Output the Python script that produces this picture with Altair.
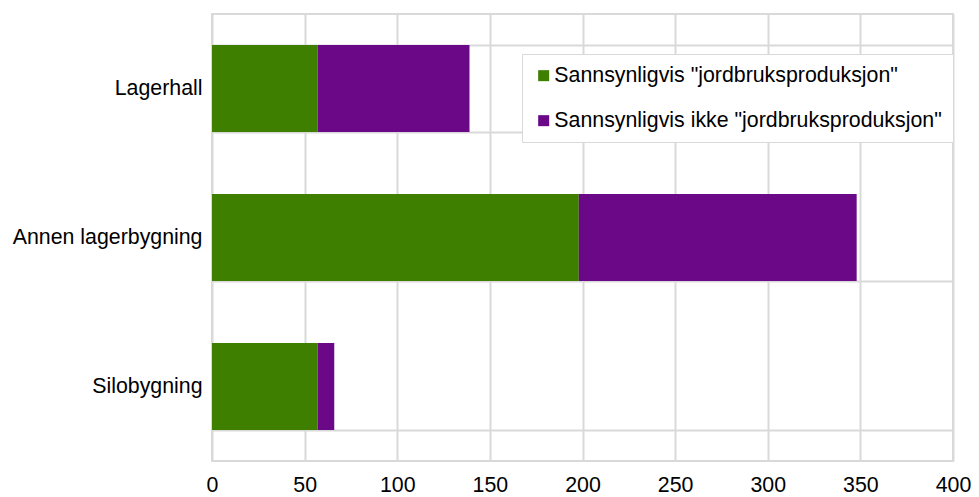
import altair as alt
import pandas as pd

categories = ["Lagerhall", "Annen lagerbygning", "Silobygning"]
series_names = ['Sannsynligvis "jordbruksproduksjon"', 'Sannsynligvis ikke "jordbruksproduksjon"']
jordbruk = [57, 198, 57]
ikke_jordbruk = [82, 150, 9]
colors = ["#3E7F00", "#6A0888"]
x_ticks = [0, 50, 100, 150, 200, 250, 300, 350, 400]

rows = []
for i, c in enumerate(categories):
    rows.append({"kategori": c, "serie": series_names[0], "verdi": jordbruk[i], "rekke": 0})
    rows.append({"kategori": c, "serie": series_names[1], "verdi": ikke_jordbruk[i], "rekke": 1})
df = pd.DataFrame(rows)

FONT = "Liberation Sans"
GRID = "#d9d9d9"
FS = 21.33

chart = alt.Chart(df).mark_bar().encode(
    y=alt.Y("kategori:N", sort=categories, title=None,
            scale=alt.Scale(paddingInner=0.416, paddingOuter=0.208),
            axis=alt.Axis(tickBand="extent", grid=True, gridColor=GRID, gridWidth=2,
                          domain=False, ticks=False, labelFontSize=FS, labelFont=FONT,
                          labelColor="#000000", labelPadding=10, labelLimit=0)),
    x=alt.X("verdi:Q", stack="zero", title=None,
            scale=alt.Scale(domain=[0, 400], nice=False),
            axis=alt.Axis(values=x_ticks, grid=True, gridColor=GRID, gridWidth=2,
                          domain=False, ticks=False, labelFontSize=FS, labelFont=FONT,
                          labelColor="#000000", labelPadding=13, labelFlush=False)),
    color=alt.Color("serie:N", scale=alt.Scale(domain=series_names, range=colors),
                    legend=alt.Legend(title=None, orient="none", legendX=310, legendY=40,
                                      symbolType="square", symbolSize=121, symbolStrokeWidth=0,
                                      labelFontSize=FS, labelFont=FONT, labelColor="#000000",
                                      labelOffset=0, labelLimit=0, rowPadding=23,
                                      padding=11, strokeColor=GRID, fillColor="#ffffff")),
    order=alt.Order("rekke:Q"),
).properties(
    width=741, height=447,
    autosize=alt.AutoSizeParams(type="none"),
    padding={"left": 204, "top": 6, "right": 18, "bottom": 35},
).configure_view(stroke=GRID, strokeWidth=2)

chart.save("out.html", embed_options={"renderer": "svg", "actions": False})
